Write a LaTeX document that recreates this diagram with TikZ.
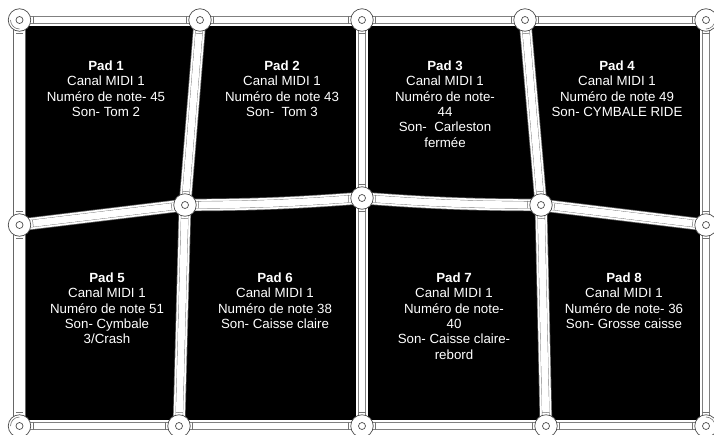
\documentclass[tikz,border=0pt]{standalone}
\usepackage{fontspec}
\setmainfont{Liberation Sans}
\usetikzlibrary{calc}
\tikzset{
    hub/.style={circle, draw=black!70, line width=0.7pt, fill=white, minimum size=22.5pt, inner sep=0pt},
    hubeye/.style={draw=black!70, line width=0.7pt},
    hubrim/.style={draw=black!55, line width=0.6pt},
    padtext/.style={text=white, align=center, anchor=north, font=\fontsize{13.3}{15.3}\selectfont},
    baredge/.style={draw=black!60, line width=12.6pt},
    barfill/.style={draw=white, line width=11.2pt},
    barline/.style={draw=black!50, line width=7.6pt},
    barcore/.style={draw=white, line width=6.8pt},
    bartick/.style={draw=black!55, line width=0.5pt}
}
\newcommand{\padbar}[1]{%
    \foreach \layer in {baredge,barfill,barline,barcore} {
        \foreach \a/\b/\bow in {#1} {
            \draw [\layer] (\a) to [bend left=\bow] (\b);
        }
    }
    \foreach \a/\b/\bow in {#1} {
        \draw [bartick] ($(\a)!13.5pt!(\b)!3.6pt!90:(\b)$) -- ($(\a)!13.5pt!(\b)!3.6pt!-90:(\b)$);
        \draw [bartick] ($(\b)!13.5pt!(\a)!3.6pt!90:(\a)$) -- ($(\b)!13.5pt!(\a)!3.6pt!-90:(\a)$);
    }
}
\begin{document}
\begin{tikzpicture}[x=1pt,y=-1pt]
    \useasboundingbox (0,0) rectangle (714,434);
    \fill [black] (20,20) rectangle (706,426);
    % hubs first, so the bars can use their names
    \foreach \name/\x/\y in {tl/19.5/20, ta/200/20, tb/362/20, tc/525/20, tr/706/20,
                             ml/19.5/225, ma/185/205, mb/362/198, mc/541/205, mr/706/225,
                             bl/19.5/426, ba/179/426, bb/362/426, bc/546/426, br/706/426}
        \coordinate (\name) at (\x,\y);
    \padbar{tl/ta/0, ta/tb/0, tb/tc/0, tc/tr/0,
            bl/ba/0, ba/bb/0, bb/bc/0, bc/br/0,
            tl/ml/0, ml/bl/0, tr/mr/0, mr/br/0,
            ta/ma/0, ma/ba/0, tb/mb/0, mb/bb/0,
            tc/mc/0, mc/bc/0,
            ml/ma/0, ma/mb/-2, mb/mc/-2, mc/mr/0}
    \foreach \name in {tl,ta,tb,tc,tr,ml,ma,mb,mc,mr,bl,ba,bb,bc,br} {
        \node [hub] (h\name) at (\name) {};
        \draw [hubeye] (\name) circle (3.5);
    }
    % corners have one more rim
    \draw [hubrim] (tl) ++(90:9) arc (90:180:9);
    \draw [hubrim] (tr) ++(0:9) arc (0:90:9);
    \draw [hubrim] (bl) ++(180:9) arc (180:270:9);
    \draw [hubrim] (br) ++(270:9) arc (270:360:9);
    % text of the pads
    \node [padtext] (pad1) at (106,57.5) {\textbf{Pad 1}\\Canal MIDI 1\\Numéro de note- 45\\Son- Tom 2};
    \node [padtext] (pad2) at (282,57.5) {\textbf{Pad 2}\\Canal MIDI 1\\Numéro de note 43\\Son-\ \ Tom 3};
    \node [padtext] (pad3) at (445,57.5) {\textbf{Pad 3}\\Canal MIDI 1\\Numéro de note-\\44\\Son-\ \ Carleston\\fermée};
    \node [padtext] (pad4) at (617,57.5) {\textbf{Pad 4}\\Canal MIDI 1\\Numéro de note 49\\Son- CYMBALE RIDE};
    \node [padtext] (pad5) at (107,269.5) {\textbf{Pad 5}\\Canal MIDI 1\\Numéro de note 51\\Son- Cymbale\\3/Crash};
    \node [padtext] (pad6) at (275,269.5) {\textbf{Pad 6}\\Canal MIDI 1\\Numéro de note 38\\Son- Caisse claire};
    \node [padtext] (pad7) at (454,269.5) {\textbf{Pad 7}\\Canal MIDI 1\\Numéro de note-\\40\\Son- Caisse claire-\\rebord};
    \node [padtext] (pad8) at (624,269.5) {\textbf{Pad 8}\\Canal MIDI 1\\Numéro de note- 36\\Son- Grosse caisse};
\end{tikzpicture}
\end{document}
